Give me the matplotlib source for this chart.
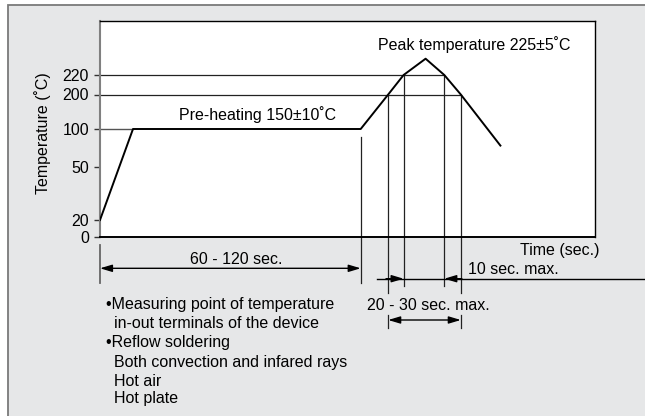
import numpy as np
import matplotlib.pyplot as plt
from matplotlib.patches import Rectangle

plt.rcParams['font.family'] = ['Liberation Sans', 'DejaVu Sans']
plt.rcParams['font.size'] = 11.5

# reflow profile (schematic) - time in sec., temperature in deg C
time_s = [0, 15, 118.5, 131, 138, 148, 156.5, 164, 182]
temp_c = [20, 100, 100, 200, 220, 225, 220, 200, 78]
y_ticks = [0, 20, 50, 100, 200, 220]

# temperature axis is not drawn to scale, map it piecewise
scale_t = [0, 20, 50, 100, 200, 220, 225, 300]
scale_p = [0, 16.7, 70, 107.7, 142.2, 161.7, 178, 215.7]

W, H = 645, 416
AX_L, AX_R, AX_T, AX_B = 100, 595, 21, 236.7
K = 2.2   # px per sec. on the time axis


def fwd(v):
    return np.interp(v, scale_t, scale_p)


def inv(p):
    return np.interp(p, scale_p, scale_t)


def fx(x):
    return x / W


def fy(y):
    return 1 - y / H


def yb(py):
    # pixel row -> axes fraction (for things below the axis)
    return (AX_B - py) / (AX_B - AX_T)


fig = plt.figure(figsize=(W / 100, H / 100), dpi=100)
fig.add_artist(Rectangle((fx(7.5), -0.1), 1.0, fy(5) + 0.1, transform=fig.transFigure,
                         facecolor='#e6e7e8', edgecolor='#7a7a7a', lw=1.3, zorder=-1))

ax = fig.add_axes([fx(AX_L), fy(AX_B), (AX_R - AX_L) / W, (AX_B - AX_T) / H])
ax.set_facecolor('white')
ax.set_yscale('function', functions=(fwd, inv))
ax.set_xlim(0, (AX_R - AX_L) / K)
ax.set_ylim(0, 300)
ax.set_yticks(y_ticks)
ax.set_yticklabels([str(v) for v in y_ticks])
ax.set_xticks([])
ax.minorticks_off()
ax.tick_params(axis='y', length=4, width=1, color='#333333', pad=4, labelsize=11.5)

for s in ['top', 'right']:
    ax.spines[s].set_linewidth(1.0)
ax.spines['bottom'].set_linewidth(1.4)
ax.spines['left'].set_color('#808080')
ax.spines['left'].set_linewidth(1.5)

trans = ax.get_xaxis_transform()


def yfrac(t, v):
    return ax.transAxes.inverted().transform(ax.transData.transform((t, v)))[1]


# profile
ax.plot(time_s, temp_c, color='black', lw=1.4, zorder=5)

# reference levels
ax.hlines(temp_c[1], 0, time_s[1], color='#555555', lw=1.0)
ax.hlines(temp_c[3], 0, time_s[7], color='#222222', lw=0.9)
ax.hlines(temp_c[4], 0, time_s[6], color='#222222', lw=0.9)

# drop lines from the profile down below the axis
lc = '#222222'
ax.plot([0, 0], [yb(245), yb(283)], transform=trans, clip_on=False, color='#666666', lw=1.3)
ax.plot([time_s[2]] * 2, [yfrac(time_s[2], temp_c[2]) - 8 / 215.7, yb(283)],
        transform=trans, clip_on=False, color=lc, lw=0.9)
for i in [3, 7]:
    ax.plot([time_s[i]] * 2, [yfrac(time_s[i], temp_c[i]), yb(293)],
            transform=trans, clip_on=False, color=lc, lw=0.9)
for i in [4, 6]:
    ax.plot([time_s[i]] * 2, [yfrac(time_s[i], temp_c[i]), yb(286)],
            transform=trans, clip_on=False, color=lc, lw=0.9)

ap = dict(color='black', lw=1.0, shrinkA=0, shrinkB=0, mutation_scale=12)

# 60 - 120 sec.
ax.annotate('', xy=(time_s[2], yb(268.3)), xytext=(0, yb(268.3)), xycoords=trans,
            textcoords=trans, annotation_clip=False,
            arrowprops=dict(arrowstyle='<|-|>,head_length=0.6,head_width=0.18', **ap))

# 10 sec. max.
y10 = yb(278.7)
ax.plot([(376.7 - AX_L) / K, (W + 5 - AX_L) / K], [y10, y10], transform=trans,
        clip_on=False, color='black', lw=1.0)
ax.annotate('', xy=(time_s[4], y10), xytext=(time_s[4] - 8, y10), xycoords=trans,
            textcoords=trans, annotation_clip=False,
            arrowprops=dict(arrowstyle='-|>,head_length=0.6,head_width=0.18', **ap))
ax.annotate('', xy=(time_s[6], y10), xytext=(time_s[6] + 8, y10), xycoords=trans,
            textcoords=trans, annotation_clip=False,
            arrowprops=dict(arrowstyle='-|>,head_length=0.6,head_width=0.18', **ap))

# 20 - 30 sec. max.
ax.annotate('', xy=(time_s[7], yb(320)), xytext=(time_s[3], yb(320)), xycoords=trans,
            textcoords=trans, annotation_clip=False,
            arrowprops=dict(arrowstyle='<|-|>,head_length=0.6,head_width=0.18', **ap))
for i in [3, 7]:
    ax.plot([time_s[i]] * 2, [yb(315), yb(328)], transform=trans, clip_on=False,
            color=lc, lw=0.9)

# texts
fig.text(fx(43), fy(133), 'Temperature (˚C)', rotation=90, ha='center', va='center')
fig.text(fx(378), fy(45), 'Peak temperature 225±5˚C', ha='left', va='center')
fig.text(fx(258), fy(115), 'Pre-heating 150±10˚C', ha='center', va='center')
fig.text(fx(599), fy(250), 'Time (sec.)', ha='right', va='center')
fig.text(fx(236.7), fy(259), '60 - 120 sec.', ha='center', va='center')
fig.text(fx(467.7), fy(269), '10 sec. max.', ha='left', va='center')
fig.text(fx(367), fy(306), '20 - 30 sec. max.', ha='left', va='center')

notes = [
    (106, 305, '•Measuring point of temperature'),
    (114, 324, 'in-out terminals of the device'),
    (106, 343, '•Reflow soldering'),
    (114, 363, 'Both convection and infared rays'),
    (114, 381, 'Hot air'),
    (114, 399, 'Hot plate'),
]
for x, y, s in notes:
    fig.text(fx(x), fy(y), s, ha='left', va='center')

fig.savefig('out.png', dpi=100)
